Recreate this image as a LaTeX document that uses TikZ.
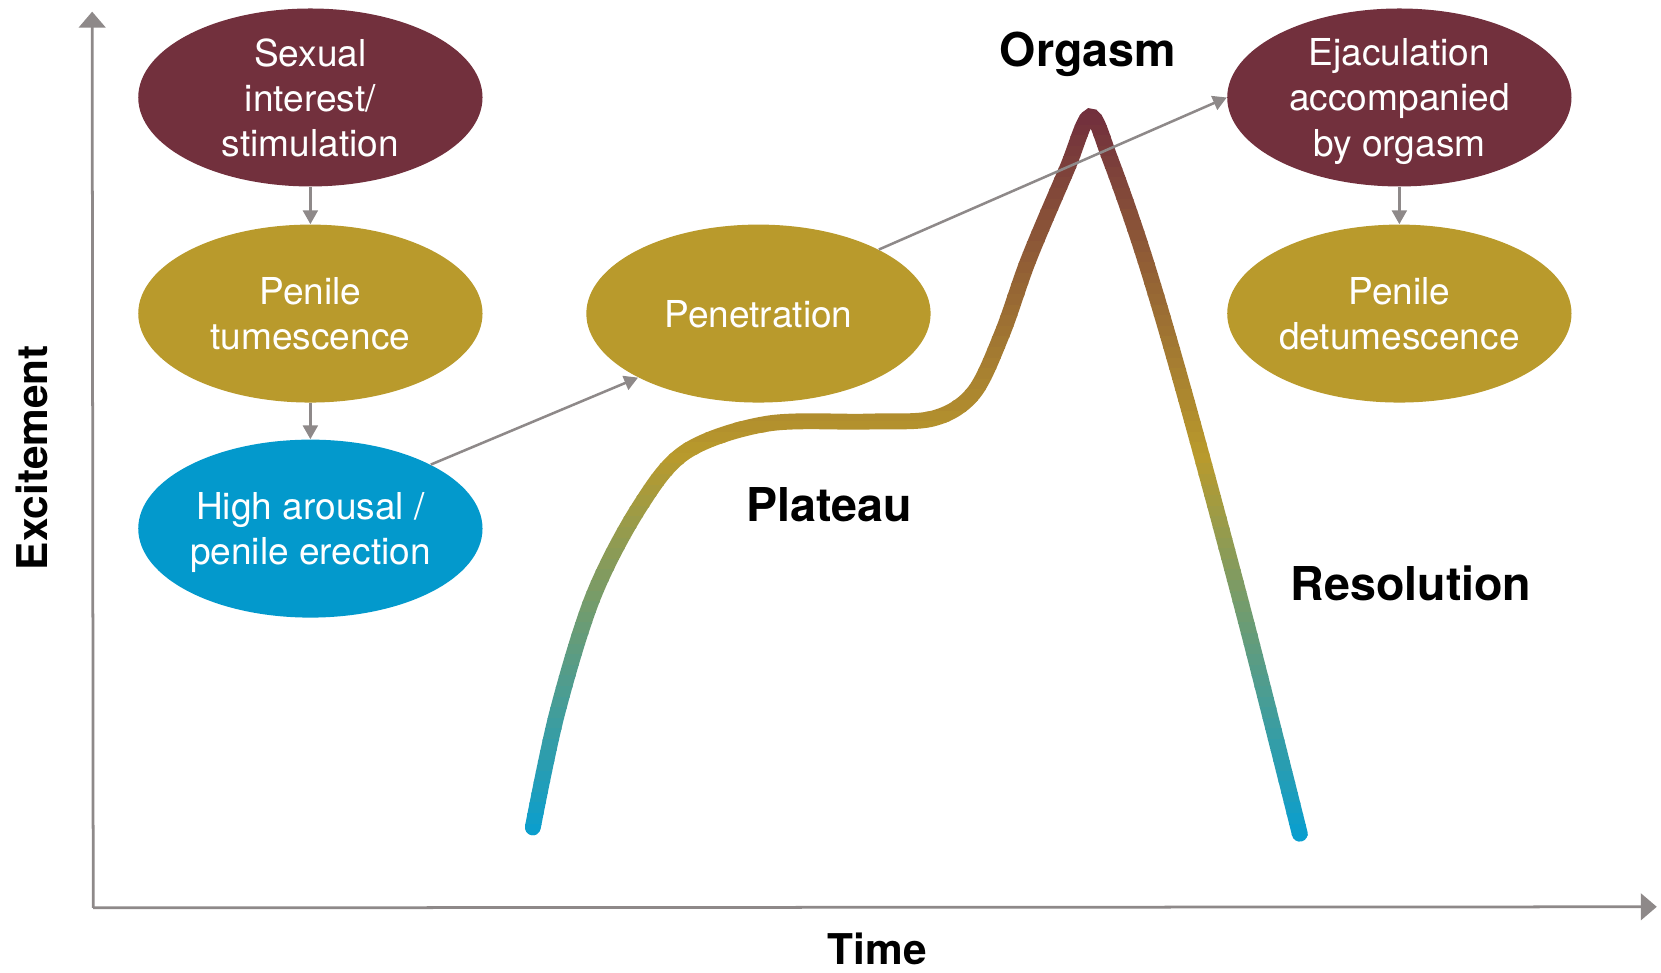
\documentclass[tikz,border=0pt]{standalone}
\usepackage{xcolor}
\usepackage{fontspec}
\setmainfont{TeX Gyre Heros}
\usepackage{tikz}
\usetikzlibrary{shapes.geometric,arrows.meta}

\definecolor{wine}{HTML}{72303D}
\definecolor{ochre}{HTML}{B99A2C}
\definecolor{sky}{HTML}{0399CC}
\definecolor{axisgray}{HTML}{8E8989}
\definecolor{curveblue}{HTML}{0A9ECE}

\newcommand\arousalcurve{plot[smooth,tension=0.55] coordinates {(503,781) (526,673) (560,563) (604,478) (648,426) (724,400) (818,398) (881,395) (919,371) (946,315) (971,245) (1007,160) (1029,110) (1048,150) (1081,245) (1120,378) (1175,582) (1227,787)}}

\begin{document}
\begin{tikzpicture}[x=0.5pt,y=-0.5pt,
  phase/.style={ellipse,minimum width=162.5pt,minimum height=84pt,inner sep=0pt,text depth=0pt,text=white,align=center,font=\fontsize{17.5}{21.25}\selectfont},
  link/.style={draw=axisgray,line width=1.2pt,-{Triangle[length=6.5pt,width=7pt]}},
  axis/.style={draw=axisgray,line width=1.3pt,-{Triangle[length=7.5pt,width=12.5pt]}},
  stage/.style={font=\fontsize{22}{26}\selectfont\bfseries},
  axislabel/.style={inner sep=0pt,font=\fontsize{20}{24}\selectfont\bfseries},
  curve/.style={line width=7.5pt,line cap=round}]
\useasboundingbox (0,0) rectangle (1568,918);

\coordinate (origin) at (88,857);
\coordinate (ytop) at (87,11);
\coordinate (xend) at (1564,856);
\draw[axis] (origin) -- (ytop);
\draw[axis] (origin) -- (xend);

\foreach \y in {88,98,...,798}{
  \pgfmathsetmacro\pa{max(0,min(100,(425-\y)/3.2))}
  \pgfmathsetmacro\pb{max(0,min(100,(\y-425)/3.57))}
  \colorlet{bandcol}{wine!\pa!ochre}
  \colorlet{bandcol}{curveblue!\pb!bandcol}
  \begin{scope}
    \clip (0,\y) rectangle (1568,\y+10.6);
    \draw[curve,bandcol] \arousalcurve;
  \end{scope}
}

\node[phase,fill=wine] (interest) at (293,92) {Sexual\\interest/\\stimulation};
\node[phase,fill=ochre] (tumescence) at (293,296) {Penile\\tumescence};
\node[phase,fill=sky] (arousal) at (293,499) {High arousal /\\penile erection};
\node[phase,fill=ochre] (penetration) at (716,296) {Penetration};
\node[phase,fill=wine] (ejaculation) at (1321,92) {Ejaculation\\accompanied\\by orgasm};
\node[phase,fill=ochre] (detumescence) at (1321,296) {Penile\\detumescence};

\draw[link] (interest) -- (tumescence);
\draw[link] (tumescence) -- (arousal);
\draw[link] (arousal.28) -- (penetration.208);
\draw[link] (penetration.28) -- (ejaculation.west);
\draw[link] (ejaculation) -- (detumescence);

\node[stage] (orgasm) at (1027,51) {Orgasm};
\node[stage] (plateau) at (783,476) {Plateau};
\node[stage] (resolution) at (1332,551) {Resolution};
\node[axislabel] (time) at (828,896) {Time};
\node[axislabel,rotate=90] (excitement) at (30,432) {Excitement};
\end{tikzpicture}
\end{document}
